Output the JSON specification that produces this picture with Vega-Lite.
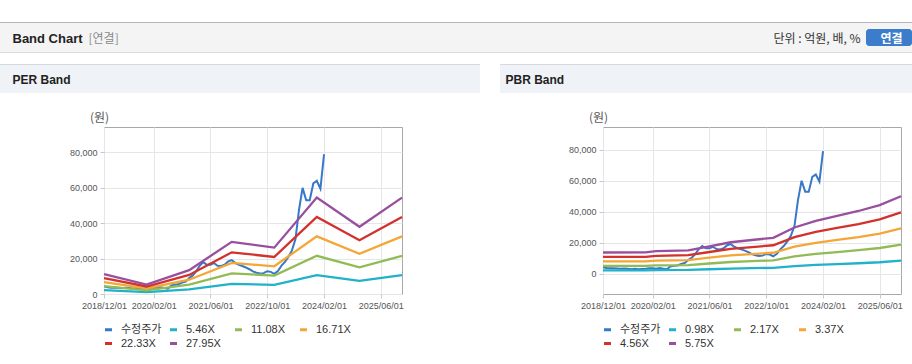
{
  "$schema": "https://vega.github.io/schema/vega-lite/v6.json",
  "background": "#ffffff",
  "padding": {"left": 0, "top": 22, "right": 0, "bottom": 0},
  "spacing": 0,
  "resolve": {"scale": {"color": "independent"}, "legend": {"color": "independent"}},
  "config": {
    "view": {"stroke": null},
    "axis": {
      "labelFont": "Liberation Sans",
      "labelFontSize": 9,
      "labelColor": "#555555",
      "gridColor": "#e6e6e6",
      "tickColor": "#c8c8c8",
      "tickSize": 4,
      "domain": false,
      "labelPadding": 3,
      "titleFont": "Noto Sans CJK KR",
      "titleFontSize": 12,
      "titleFontWeight": "normal",
      "titleColor": "#555555"
    }
  },
  "datasets": {
    "price": [
      {"date": "2018-12-01", "value": 4300}, {"date": "2019-01-01", "value": 3800}, {"date": "2019-02-01", "value": 3600},
      {"date": "2019-03-01", "value": 3700}, {"date": "2019-04-01", "value": 3500}, {"date": "2019-05-01", "value": 3300},
      {"date": "2019-06-01", "value": 3500}, {"date": "2019-07-01", "value": 3400}, {"date": "2019-08-01", "value": 3100},
      {"date": "2019-09-01", "value": 3300}, {"date": "2019-10-01", "value": 3000}, {"date": "2019-11-01", "value": 3200},
      {"date": "2019-12-01", "value": 3400}, {"date": "2020-01-01", "value": 3700}, {"date": "2020-02-01", "value": 3600},
      {"date": "2020-03-01", "value": 3300}, {"date": "2020-04-01", "value": 3800}, {"date": "2020-05-01", "value": 3400},
      {"date": "2020-06-01", "value": 3000}, {"date": "2020-07-01", "value": 4800}, {"date": "2020-08-01", "value": 5200},
      {"date": "2020-09-01", "value": 5500}, {"date": "2020-10-01", "value": 6500}, {"date": "2020-11-01", "value": 7000},
      {"date": "2020-12-01", "value": 9000}, {"date": "2021-01-01", "value": 10500}, {"date": "2021-02-01", "value": 13000},
      {"date": "2021-03-01", "value": 16000}, {"date": "2021-04-01", "value": 18000}, {"date": "2021-05-01", "value": 16500},
      {"date": "2021-06-01", "value": 16500}, {"date": "2021-07-01", "value": 17500}, {"date": "2021-08-01", "value": 16000},
      {"date": "2021-09-01", "value": 15800}, {"date": "2021-10-01", "value": 16500}, {"date": "2021-11-01", "value": 18500},
      {"date": "2021-12-01", "value": 19200}, {"date": "2022-01-01", "value": 17500}, {"date": "2022-02-01", "value": 16500},
      {"date": "2022-03-01", "value": 15800}, {"date": "2022-04-01", "value": 15000}, {"date": "2022-05-01", "value": 14000},
      {"date": "2022-06-01", "value": 12800}, {"date": "2022-07-01", "value": 12000}, {"date": "2022-08-01", "value": 11600},
      {"date": "2022-09-01", "value": 11800}, {"date": "2022-10-01", "value": 12900}, {"date": "2022-11-01", "value": 12500},
      {"date": "2022-12-01", "value": 11400}, {"date": "2023-01-01", "value": 13000}, {"date": "2023-02-01", "value": 16000},
      {"date": "2023-03-01", "value": 18000}, {"date": "2023-04-01", "value": 21000}, {"date": "2023-05-01", "value": 24500},
      {"date": "2023-06-01", "value": 31000}, {"date": "2023-07-01", "value": 47500}, {"date": "2023-08-01", "value": 60000},
      {"date": "2023-09-01", "value": 53000}, {"date": "2023-10-01", "value": 53000}, {"date": "2023-11-01", "value": 62500},
      {"date": "2023-12-01", "value": 64000}, {"date": "2024-01-01", "value": 59500}, {"date": "2024-02-01", "value": 79000}
    ],
    "per_band": [
      {"date": "2018-12-01", "band": "5.46X", "value": 2195}, {"date": "2018-12-01", "band": "11.08X", "value": 4454}, {"date": "2018-12-01", "band": "16.71X", "value": 6717}, {"date": "2018-12-01", "band": "22.33X", "value": 8977}, {"date": "2018-12-01", "band": "27.95X", "value": 11236},
      {"date": "2019-12-01", "band": "5.46X", "value": 1037}, {"date": "2019-12-01", "band": "11.08X", "value": 2105}, {"date": "2019-12-01", "band": "16.71X", "value": 3175}, {"date": "2019-12-01", "band": "22.33X", "value": 4243}, {"date": "2019-12-01", "band": "27.95X", "value": 5311},
      {"date": "2020-12-01", "band": "5.46X", "value": 2632}, {"date": "2020-12-01", "band": "11.08X", "value": 5341}, {"date": "2020-12-01", "band": "16.71X", "value": 8054}, {"date": "2020-12-01", "band": "22.33X", "value": 10763}, {"date": "2020-12-01", "band": "27.95X", "value": 13472},
      {"date": "2021-12-01", "band": "5.46X", "value": 5760}, {"date": "2021-12-01", "band": "11.08X", "value": 11689}, {"date": "2021-12-01", "band": "16.71X", "value": 17629}, {"date": "2021-12-01", "band": "22.33X", "value": 23558}, {"date": "2021-12-01", "band": "27.95X", "value": 29487},
      {"date": "2022-12-01", "band": "5.46X", "value": 5121}, {"date": "2022-12-01", "band": "11.08X", "value": 10393}, {"date": "2022-12-01", "band": "16.71X", "value": 15674}, {"date": "2022-12-01", "band": "22.33X", "value": 20946}, {"date": "2022-12-01", "band": "27.95X", "value": 26217},
      {"date": "2023-12-01", "band": "5.46X", "value": 10647}, {"date": "2023-12-01", "band": "11.08X", "value": 21606}, {"date": "2023-12-01", "band": "16.71X", "value": 32585}, {"date": "2023-12-01", "band": "22.33X", "value": 43544}, {"date": "2023-12-01", "band": "27.95X", "value": 54503},
      {"date": "2024-12-01", "band": "5.46X", "value": 7426}, {"date": "2024-12-01", "band": "11.08X", "value": 15069}, {"date": "2024-12-01", "band": "16.71X", "value": 22726}, {"date": "2024-12-01", "band": "22.33X", "value": 30369}, {"date": "2024-12-01", "band": "27.95X", "value": 38012},
      {"date": "2025-12-01", "band": "5.46X", "value": 10647}, {"date": "2025-12-01", "band": "11.08X", "value": 21606}, {"date": "2025-12-01", "band": "16.71X", "value": 32585}, {"date": "2025-12-01", "band": "22.33X", "value": 43544}, {"date": "2025-12-01", "band": "27.95X", "value": 54503}
    ],
    "pbr_band": [
      {"date": "2018-12-01", "band": "0.98X", "value": 2352}, {"date": "2018-12-01", "band": "2.17X", "value": 5208}, {"date": "2018-12-01", "band": "3.37X", "value": 8088}, {"date": "2018-12-01", "band": "4.56X", "value": 10944}, {"date": "2018-12-01", "band": "5.75X", "value": 13800},
      {"date": "2019-12-01", "band": "0.98X", "value": 2372}, {"date": "2019-12-01", "band": "2.17X", "value": 5251}, {"date": "2019-12-01", "band": "3.37X", "value": 8155}, {"date": "2019-12-01", "band": "4.56X", "value": 11035}, {"date": "2019-12-01", "band": "5.75X", "value": 13915},
      {"date": "2020-03-01", "band": "0.98X", "value": 2499}, {"date": "2020-03-01", "band": "2.17X", "value": 5534}, {"date": "2020-03-01", "band": "3.37X", "value": 8594}, {"date": "2020-03-01", "band": "4.56X", "value": 11628}, {"date": "2020-03-01", "band": "5.75X", "value": 14663},
      {"date": "2020-12-01", "band": "0.98X", "value": 2597}, {"date": "2020-12-01", "band": "2.17X", "value": 5751}, {"date": "2020-12-01", "band": "3.37X", "value": 8931}, {"date": "2020-12-01", "band": "4.56X", "value": 12084}, {"date": "2020-12-01", "band": "5.75X", "value": 15238},
      {"date": "2021-06-01", "band": "0.98X", "value": 3038}, {"date": "2021-06-01", "band": "2.17X", "value": 6727}, {"date": "2021-06-01", "band": "3.37X", "value": 10447}, {"date": "2021-06-01", "band": "4.56X", "value": 14136}, {"date": "2021-06-01", "band": "5.75X", "value": 17825},
      {"date": "2021-12-01", "band": "0.98X", "value": 3479}, {"date": "2021-12-01", "band": "2.17X", "value": 7704}, {"date": "2021-12-01", "band": "3.37X", "value": 11964}, {"date": "2021-12-01", "band": "4.56X", "value": 16188}, {"date": "2021-12-01", "band": "5.75X", "value": 20413},
      {"date": "2022-06-01", "band": "0.98X", "value": 3724}, {"date": "2022-06-01", "band": "2.17X", "value": 8246}, {"date": "2022-06-01", "band": "3.37X", "value": 12806}, {"date": "2022-06-01", "band": "4.56X", "value": 17328}, {"date": "2022-06-01", "band": "5.75X", "value": 21850},
      {"date": "2022-12-01", "band": "0.98X", "value": 3969}, {"date": "2022-12-01", "band": "2.17X", "value": 8789}, {"date": "2022-12-01", "band": "3.37X", "value": 13649}, {"date": "2022-12-01", "band": "4.56X", "value": 18468}, {"date": "2022-12-01", "band": "5.75X", "value": 23288},
      {"date": "2023-06-01", "band": "0.98X", "value": 5096}, {"date": "2023-06-01", "band": "2.17X", "value": 11284}, {"date": "2023-06-01", "band": "3.37X", "value": 17524}, {"date": "2023-06-01", "band": "4.56X", "value": 23712}, {"date": "2023-06-01", "band": "5.75X", "value": 29900},
      {"date": "2023-12-01", "band": "0.98X", "value": 5831}, {"date": "2023-12-01", "band": "2.17X", "value": 12912}, {"date": "2023-12-01", "band": "3.37X", "value": 20052}, {"date": "2023-12-01", "band": "4.56X", "value": 27132}, {"date": "2023-12-01", "band": "5.75X", "value": 34213},
      {"date": "2024-06-01", "band": "0.98X", "value": 6370}, {"date": "2024-06-01", "band": "2.17X", "value": 14105}, {"date": "2024-06-01", "band": "3.37X", "value": 21905}, {"date": "2024-06-01", "band": "4.56X", "value": 29640}, {"date": "2024-06-01", "band": "5.75X", "value": 37375},
      {"date": "2024-12-01", "band": "0.98X", "value": 6909}, {"date": "2024-12-01", "band": "2.17X", "value": 15299}, {"date": "2024-12-01", "band": "3.37X", "value": 23759}, {"date": "2024-12-01", "band": "4.56X", "value": 32148}, {"date": "2024-12-01", "band": "5.75X", "value": 40538},
      {"date": "2025-06-01", "band": "0.98X", "value": 7546}, {"date": "2025-06-01", "band": "2.17X", "value": 16709}, {"date": "2025-06-01", "band": "3.37X", "value": 25949}, {"date": "2025-06-01", "band": "4.56X", "value": 35112}, {"date": "2025-06-01", "band": "5.75X", "value": 44275},
      {"date": "2025-12-01", "band": "0.98X", "value": 8526}, {"date": "2025-12-01", "band": "2.17X", "value": 18879}, {"date": "2025-12-01", "band": "3.37X", "value": 29319}, {"date": "2025-12-01", "band": "4.56X", "value": 39672}, {"date": "2025-12-01", "band": "5.75X", "value": 50025}
    ]
  },
  "vconcat": [
    {"width": 912, "height": 1, "data": {"values": []}, "mark": "point", "view": {"fill": "#b8b8b8"}},
    {"width": 912, "height": 6, "data": {"values": []}, "mark": "point", "view": {"fill": "#f4f4f4"}},
    {
      "spacing": 0,
      "hconcat": [
        {"width": 84, "height": 17, "data": {"values": []}, "mark": "point", "view": {"fill": "#f4f4f4"},
         "encoding": {"x": {"field": "t", "type": "quantitative", "scale": {"domain": [0, 1]},
           "axis": {"orient": "bottom", "labels": false, "ticks": false, "grid": false, "domain": false, "title": "Band Chart", "titleX": 12, "titleY": -8, "titleAlign": "left", "titleBaseline": "middle", "titleFont": "Liberation Sans", "titleFontSize": 13, "titleFontWeight": "bold", "titleColor": "#222222"}}}},
        {"width": 672, "height": 17, "data": {"values": []}, "mark": "point", "view": {"fill": "#f4f4f4"},
         "encoding": {"x": {"field": "t", "type": "quantitative", "scale": {"domain": [0, 1]},
           "axis": {"orient": "bottom", "labels": false, "ticks": false, "grid": false, "domain": false, "title": "[연결]", "titleX": 4, "titleY": -8, "titleAlign": "left", "titleBaseline": "middle", "titleFont": "Noto Sans CJK KR", "titleFontSize": 12, "titleFontWeight": "normal", "titleColor": "#8a8a8a"}}}},
        {"width": 110, "height": 17, "data": {"values": []}, "mark": "point", "view": {"fill": "#f4f4f4"},
         "encoding": {"x": {"field": "t", "type": "quantitative", "scale": {"domain": [0, 1]},
           "axis": {"orient": "bottom", "labels": false, "ticks": false, "grid": false, "domain": false, "title": "단위 : 억원, 배, %", "titleX": 104, "titleY": -8, "titleAlign": "right", "titleBaseline": "middle", "titleFont": "Noto Sans CJK KR", "titleFontSize": 12, "titleFontWeight": "normal", "titleColor": "#333333"}}}},
        {"width": 46, "height": 17, "data": {"values": []}, "mark": "point", "view": {"fill": "#3b7dcb", "cornerRadius": 3},
         "encoding": {"x": {"field": "t", "type": "quantitative", "scale": {"domain": [0, 1]},
           "axis": {"orient": "bottom", "labels": false, "ticks": false, "grid": false, "domain": false, "title": "연결", "titleX": 25, "titleY": -8, "titleAlign": "center", "titleBaseline": "middle", "titleFont": "Noto Sans CJK KR", "titleFontSize": 12, "titleFontWeight": "bold", "titleColor": "#ffffff"}}}}
      ]
    },
    {"width": 912, "height": 6, "data": {"values": []}, "mark": "point", "view": {"fill": "#f4f4f4"}},
    {"width": 912, "height": 1, "data": {"values": []}, "mark": "point", "view": {"fill": "#dcdcdc"}},
    {"width": 912, "height": 11, "data": {"values": []}, "mark": "point"},
    {
      "spacing": 0,
      "hconcat": [
        {"width": 480, "height": 1, "data": {"values": []}, "mark": "point", "view": {"fill": "#d6d9de"}},
        {"width": 20, "height": 1, "data": {"values": []}, "mark": "point"},
        {"width": 412, "height": 1, "data": {"values": []}, "mark": "point", "view": {"fill": "#d6d9de"}}
      ]
    },
    {
      "spacing": 0,
      "hconcat": [
        {"width": 480, "height": 28, "data": {"values": []}, "mark": "point", "view": {"fill": "#eff2f6"},
         "encoding": {"x": {"field": "t", "type": "quantitative", "scale": {"domain": [0, 1]},
           "axis": {"orient": "bottom", "labels": false, "ticks": false, "grid": false, "domain": false, "title": "PER Band", "titleX": 12, "titleY": -14, "titleAlign": "left", "titleBaseline": "middle", "titleFont": "Liberation Sans", "titleFontSize": 12, "titleFontWeight": "bold", "titleColor": "#222222"}}}},
        {"width": 20, "height": 28, "data": {"values": []}, "mark": "point"},
        {"width": 412, "height": 28, "data": {"values": []}, "mark": "point", "view": {"fill": "#eff2f6"},
         "encoding": {"x": {"field": "t", "type": "quantitative", "scale": {"domain": [0, 1]},
           "axis": {"orient": "bottom", "labels": false, "ticks": false, "grid": false, "domain": false, "title": "PBR Band", "titleX": 5, "titleY": -14, "titleAlign": "left", "titleBaseline": "middle", "titleFont": "Liberation Sans", "titleFontSize": 12, "titleFontWeight": "bold", "titleColor": "#222222"}}}}
      ]
    },
    {"width": 912, "height": 17, "data": {"values": []}, "mark": "point"},
    {
      "spacing": 0,
      "bounds": "flush",
      "resolve": {"scale": {"color": "independent"}, "legend": {"color": "independent"}},
      "hconcat": [
        {"width": 104, "height": 167, "data": {"values": []}, "mark": "point"},
        {
          "width": 298,
          "height": 167,
          "view": {"stroke": "#a8a8a8"},
          "encoding": {
            "x": {"field": "date", "type": "temporal",
                  "scale": {"type": "utc", "domain": [{"year": 2018, "month": 12, "date": 1, "utc": true}, {"year": 2025, "month": 12, "date": 1, "utc": true}]},
                  "axis": {"title": null, "format": "%Y/%m/%d", "labelOverlap": false, "labelFlush": false,
                           "values": [{"year": 2018, "month": 12, "date": 1, "utc": true}, {"year": 2020, "month": 2, "date": 1, "utc": true}, {"year": 2021, "month": 6, "date": 1, "utc": true}, {"year": 2022, "month": 10, "date": 1, "utc": true}, {"year": 2024, "month": 2, "date": 1, "utc": true}, {"year": 2025, "month": 6, "date": 1, "utc": true}]}},
            "y": {"field": "value", "type": "quantitative",
                  "scale": {"domain": [0, 94400], "nice": false, "zero": false},
                  "axis": {"values": [0, 20000, 40000, 60000, 80000], "format": ",d", "title": "(원)", "titleAngle": 0, "titleX": -5, "titleY": -10, "titleAlign": "center", "titleBaseline": "middle"}}
          },
          "layer": [
            {"data": {"name": "price"}, "mark": {"type": "line", "strokeWidth": 2},
             "encoding": {"color": {"datum": "수정주가", "type": "nominal"}}},
            {"data": {"name": "per_band"}, "mark": {"type": "line", "strokeWidth": 2.3},
             "encoding": {"color": {"field": "band", "type": "nominal",
               "scale": {"domain": ["수정주가", "5.46X", "11.08X", "16.71X", "22.33X", "27.95X"], "range": ["#3878c8", "#20b2c8", "#91bb55", "#f4a636", "#d2312c", "#984f9e"]},
               "legend": {"title": null, "orient": "none", "legendX": -1, "legendY": 197, "direction": "horizontal", "columns": 4, "gridAlign": "all", "symbolType": "stroke", "symbolStrokeWidth": 3, "symbolSize": 49, "labelFont": "Liberation Sans, Noto Sans CJK KR", "labelFontSize": 11, "labelColor": "#333333", "columnPadding": 2, "rowPadding": 1, "padding": 0, "labelOffset": 7}}}}
          ]
        },
        {"width": 201, "height": 167, "data": {"values": []}, "mark": "point"},
        {
          "width": 298,
          "height": 167,
          "view": {"stroke": "#a8a8a8"},
          "encoding": {
            "x": {"field": "date", "type": "temporal",
                  "scale": {"type": "utc", "domain": [{"year": 2018, "month": 12, "date": 1, "utc": true}, {"year": 2025, "month": 12, "date": 1, "utc": true}]},
                  "axis": {"title": null, "format": "%Y/%m/%d", "labelOverlap": false, "labelFlush": false,
                           "values": [{"year": 2018, "month": 12, "date": 1, "utc": true}, {"year": 2020, "month": 2, "date": 1, "utc": true}, {"year": 2021, "month": 6, "date": 1, "utc": true}, {"year": 2022, "month": 10, "date": 1, "utc": true}, {"year": 2024, "month": 2, "date": 1, "utc": true}, {"year": 2025, "month": 6, "date": 1, "utc": true}]}},
            "y": {"field": "value", "type": "quantitative",
                  "scale": {"domain": [-12900, 94600], "nice": false, "zero": false},
                  "axis": {"values": [0, 20000, 40000, 60000, 80000], "format": ",d", "title": "(원)", "titleAngle": 0, "titleX": -5, "titleY": -10, "titleAlign": "center", "titleBaseline": "middle"}}
          },
          "layer": [
            {"data": {"name": "price"}, "mark": {"type": "line", "strokeWidth": 2},
             "encoding": {"color": {"datum": "수정주가", "type": "nominal"}}},
            {"data": {"name": "pbr_band"}, "mark": {"type": "line", "strokeWidth": 2.3},
             "encoding": {"color": {"field": "band", "type": "nominal",
               "scale": {"domain": ["수정주가", "0.98X", "2.17X", "3.37X", "4.56X", "5.75X"], "range": ["#3878c8", "#20b2c8", "#91bb55", "#f4a636", "#d2312c", "#984f9e"]},
               "legend": {"title": null, "orient": "none", "legendX": -1, "legendY": 197, "direction": "horizontal", "columns": 4, "gridAlign": "all", "symbolType": "stroke", "symbolStrokeWidth": 3, "symbolSize": 49, "labelFont": "Liberation Sans, Noto Sans CJK KR", "labelFontSize": 11, "labelColor": "#333333", "columnPadding": 2, "rowPadding": 1, "padding": 0, "labelOffset": 7}}}}
          ]
        }
      ]
    },
    {"width": 912, "height": 13, "data": {"values": []}, "mark": "point"},
    {
      "spacing": 0,
      "hconcat": [
        {"width": 480, "height": 1, "data": {"values": []}, "mark": "point", "view": {"fill": "#dddddd"}},
        {"width": 20, "height": 1, "data": {"values": []}, "mark": "point"},
        {"width": 412, "height": 1, "data": {"values": []}, "mark": "point", "view": {"fill": "#dddddd"}}
      ]
    }
  ]
}
